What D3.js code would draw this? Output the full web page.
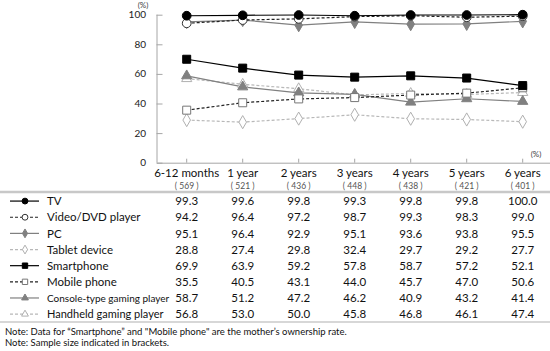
<!DOCTYPE html>
<html>
<head>
<meta charset="utf-8">
<script src="https://cdn.jsdelivr.net/npm/d3@7"></script>
<style>
  body { margin: 0; background: #fff; }
  text { font-family: Lato, "Open Sans", sans-serif; }
</style>
</head>
<body>
<div id="chart"></div>
<script>
// data
const ages = ["6-12 months", "1 year", "2 years", "3 years", "4 years", "5 years", "6 years"];
const sampleSizes = [569, 521, 436, 448, 438, 421, 401];
const seriesNames = ["TV", "Video/DVD player", "PC", "Tablet device", "Smartphone",
    "Mobile phone", "Console-type gaming player", "Handheld gaming player"];
const tv = [99.3, 99.6, 99.8, 99.3, 99.8, 99.8, 100.0];
const video = [94.2, 96.4, 97.2, 98.7, 99.3, 98.3, 99.0];
const pc = [95.1, 96.4, 92.9, 95.1, 93.6, 93.8, 95.5];
const tablet = [28.8, 27.4, 29.8, 32.4, 29.7, 29.2, 27.7];
const smartphone = [69.9, 63.9, 59.2, 57.8, 58.7, 57.2, 52.1];
const mobile = [35.5, 40.5, 43.1, 44.0, 45.7, 47.0, 50.6];
const consoleGame = [58.7, 51.2, 47.2, 46.2, 40.9, 43.2, 41.4];
const handheld = [56.8, 53.0, 50.0, 45.8, 46.8, 46.1, 47.4];
const yTicks = [0, 20, 40, 60, 80, 100];
const notes = [
    "Note:  Data for \u201cSmartphone\u201d and \"Mobile phone\" are the mother\u2019s ownership rate.",
    "Note:  Sample size indicated in brackets."
];

const styles = [
    {values: tv, line: "#000", dash: null, shape: d3.symbolCircle, fill: "#000", stroke: "#000", size: 60},
    {values: video, line: "#222", dash: "3,2", shape: d3.symbolCircle, fill: "#fff", stroke: "#333", size: 60},
    {values: pc, line: "#808080", dash: null, shape: d3.symbolDiamond, fill: "#808080", stroke: "#808080", size: 50},
    {values: tablet, line: "#b8b8b8", dash: "3,2", shape: d3.symbolDiamond, fill: "#fff", stroke: "#b0b0b0", size: 50},
    {values: smartphone, line: "#000", dash: null, shape: d3.symbolSquare, fill: "#000", stroke: "#000", size: 64},
    {values: mobile, line: "#222", dash: "3,2", shape: d3.symbolSquare, fill: "#fff", stroke: "#777", size: 64},
    {values: consoleGame, line: "#808080", dash: null, shape: d3.symbolTriangle, fill: "#808080", stroke: "#808080", size: 45},
    {values: handheld, line: "#b8b8b8", dash: "3,2", shape: d3.symbolTriangle, fill: "#fff", stroke: "#b0b0b0", size: 45}
];

const width = 550, height = 351;
const svg = d3.select("#chart").append("svg")
    .attr("width", width)
    .attr("height", height);

// scales
const x = d3.scaleBand().domain(ages).range([158.7, 550.7]);
const y = d3.scaleLinear().domain([0, 100]).range([162.7, 14.7]);
const row = d3.scaleBand().domain(seriesNames).range([193, 322.2]);
const cx = d => x(d) + x.bandwidth() / 2;

const axisColor = "#a6a6a6";

// y axis (ticks point inward)
const yAxis = svg.append("g")
    .attr("transform", "translate(156.5,0)")
    .call(d3.axisRight(y).tickValues(yTicks).tickSize(6).tickFormat(""));
yAxis.select(".domain").attr("stroke", axisColor).attr("d", `M0.5,${y(0)}V${y(100)}`);
yAxis.selectAll(".tick line").attr("stroke", axisColor);

svg.selectAll(".ylab").data(yTicks).enter().append("text")
    .attr("class", "ylab")
    .attr("x", 146)
    .attr("y", d => y(d) + 3.5)
    .attr("text-anchor", "end")
    .attr("font-size", 10)
    .attr("fill", "#222")
    .text(d => d);

svg.append("text").attr("x", 143).attr("y", 7.5).attr("text-anchor", "middle")
    .attr("font-size", 8).attr("fill", "#444").text("(%)");

// x axis
svg.append("line")
    .attr("x1", 157).attr("x2", 550)
    .attr("y1", y(0) + 0.5).attr("y2", y(0) + 0.5)
    .attr("stroke", axisColor);
svg.selectAll(".xtick").data(ages).enter().append("line")
    .attr("class", "xtick")
    .attr("x1", d => cx(d)).attr("x2", d => cx(d))
    .attr("y1", y(0)).attr("y2", y(0) - 4)
    .attr("stroke", axisColor);
svg.append("text").attr("x", 536).attr("y", 157).attr("text-anchor", "middle")
    .attr("font-size", 8).attr("fill", "#444").text("(%)");

// lines
const line = d3.line()
    .x((d, i) => cx(ages[i]))
    .y(d => y(d));

const order = [7, 3, 6, 2, 5, 1, 4, 0];
order.forEach(k => {
    const s = styles[k];
    svg.append("path")
        .datum(s.values)
        .attr("fill", "none")
        .attr("stroke", s.line)
        .attr("stroke-width", 1.2)
        .attr("stroke-dasharray", s.dash)
        .attr("d", line);
});
order.forEach(k => {
    const s = styles[k];
    svg.selectAll(".m" + k).data(s.values).enter().append("path")
        .attr("class", "m" + k)
        .attr("transform", (d, i) => `translate(${cx(ages[i])},${y(d)})`)
        .attr("d", d3.symbol().type(s.shape).size(s.size))
        .attr("fill", s.fill)
        .attr("stroke", s.stroke)
        .attr("stroke-width", 1);
});

// table header
svg.selectAll(".head").data(ages).enter().append("text")
    .attr("class", "head")
    .attr("x", d => cx(d))
    .attr("y", 177)
    .attr("text-anchor", "middle")
    .attr("font-size", 11.5)
    .attr("fill", "#111")
    .text(d => d);
svg.selectAll(".size").data(sampleSizes).enter().append("text")
    .attr("class", "size")
    .attr("x", (d, i) => cx(ages[i]))
    .attr("y", 189)
    .attr("text-anchor", "middle")
    .attr("font-size", 8.5)
    .attr("fill", "#555")
    .text(d => "( " + d + " )");

svg.append("line").attr("x1", 0).attr("x2", 550).attr("y1", 192).attr("y2", 192)
    .attr("stroke", "#c8c8c8").attr("stroke-width", 2.5);
svg.append("line").attr("x1", 0).attr("x2", 550).attr("y1", 322).attr("y2", 322)
    .attr("stroke", "#b0b0b0").attr("stroke-width", 1.2);

// table rows
seriesNames.forEach((name, k) => {
    const s = styles[k];
    const ry = row(name) + row.bandwidth() / 2;
    svg.append("line")
        .attr("x1", 10).attr("x2", 39).attr("y1", ry).attr("y2", ry)
        .attr("stroke", s.line).attr("stroke-width", 1.2)
        .attr("stroke-dasharray", s.dash);
    svg.append("path")
        .attr("transform", `translate(25,${ry})`)
        .attr("d", d3.symbol().type(s.shape).size(s.size * 0.45))
        .attr("fill", s.fill).attr("stroke", s.stroke);
    // long names get a smaller font so they clear the first value column
    let fs = 11.5;
    if (name.length > 24) fs = 10;
    else if (name.length > 20) fs = 11;
    svg.append("text")
        .attr("x", 47).attr("y", ry + 4.2)
        .attr("font-size", fs).attr("fill", "#111")
        .text(name);

    svg.selectAll(".v" + k).data(s.values).enter().append("text")
        .attr("class", "v" + k)
        .attr("x", (d, i) => cx(ages[i]))
        .attr("y", ry + 4.2)
        .attr("text-anchor", "middle")
        .attr("font-size", 11.5)
        .attr("fill", "#111")
        .text(d => d.toFixed(1));
});

// notes
svg.selectAll(".note").data(notes).enter().append("text")
    .attr("class", "note")
    .attr("x", 5)
    .attr("y", (d, i) => 335 + i * 11)
    .attr("font-size", 9.5)
    .attr("fill", "#111")
    .text(d => d);
</script>
</body>
</html>
